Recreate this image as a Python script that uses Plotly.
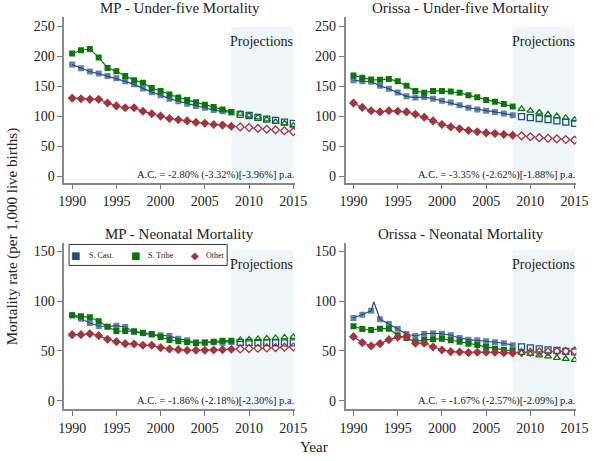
import plotly.graph_objects as go

years_hist = [1990, 1991, 1992, 1993, 1994, 1995, 1996, 1997, 1998, 1999,
              2000, 2001, 2002, 2003, 2004, 2005, 2006, 2007, 2008]
years_proj = [2009, 2010, 2011, 2012, 2013, 2014, 2015]

# MP - Under-five
mp_u5_sc = [186, 180, 174.5, 171, 167, 163, 158, 153, 146, 140, 135, 129, 125, 120.5, 117, 114, 110, 108, 106]
mp_u5_st = [204.5, 210, 212, 198, 180.5, 175, 167, 160, 155.5, 147, 142, 136, 131, 127, 123, 119, 115, 111, 107]
mp_u5_ot = [130, 129, 128, 128, 122, 117, 114, 114, 108, 104, 100, 96, 94, 92, 89.5, 88, 86, 85, 83]
mp_u5_sc_p = [103, 101, 98, 95, 93, 90, 88]
mp_u5_st_p = [104, 101, 98, 94.5, 90.5, 88, 84]
mp_u5_ot_p = [82, 81, 79.5, 78, 77, 75.5, 74]

# Orissa - Under-five
or_u5_sc = [160, 158, 157.5, 150.5, 145.5, 139.5, 133, 131, 132, 129, 125.5, 122.8, 118, 114, 111, 109, 107, 104.5, 101.5]
or_u5_st = [167.8, 164, 161, 160.5, 162, 158, 150.5, 142, 139, 142, 142, 141, 139, 135, 131.5, 127, 124, 120, 116]
or_u5_ot = [121.7, 114.5, 109, 107, 109, 108, 107, 103, 98, 92, 86, 82, 79, 76, 74, 72, 71, 69.5, 68]
or_u5_sc_p = [99, 97.5, 96, 94, 92, 90, 88]
or_u5_st_p = [112, 109, 106, 103, 100, 97, 94]
or_u5_ot_p = [67, 65.5, 64, 63, 62, 61, 60]

# MP - Neonatal
mp_nn_sc = [85.7, 82.3, 78, 75, 74.3, 75.3, 74, 69, 67.7, 66.3, 65.7, 65, 62.3, 60.7, 58.7, 58.7, 58.7, 58.3, 59]
mp_nn_st = [85.7, 84.7, 83.7, 79.7, 74.3, 70, 70, 69.7, 68.3, 67, 64, 61, 59.7, 58.7, 57.7, 58.3, 59.3, 60.3, 60.3]
mp_nn_ot = [66.3, 66.3, 67.3, 65.3, 61.7, 59.3, 57.3, 57, 55.7, 55.7, 53.3, 52, 51.3, 50.7, 50.7, 50.7, 51, 51.3, 51.7]
mp_nn_sc_p = [58.5, 58.5, 58.4, 58.3, 58.2, 58.1, 58]
mp_nn_st_p = [61, 61.5, 62, 62.5, 63, 63.5, 64]
mp_nn_ot_p = [52, 52.3, 52.7, 53, 53.3, 53.7, 54]

# Orissa - Neonatal
or_nn_sc = [83, 86.3, 90.3, 81.7, 77, 72.3, 67, 65, 67, 67.7, 67.3, 65.7, 63, 61.3, 60.7, 59.7, 58.7, 57.7, 55.7]
or_nn_sc_spike_year = 1992.3
or_nn_sc_spike_value = 99.3
or_nn_st = [74.7, 72, 71, 72.3, 72.3, 65.7, 63, 59.3, 61, 61.7, 62.3, 60.7, 59.3, 57.3, 56, 54, 52.3, 51, 50]
or_nn_ot = [64.3, 58.3, 55, 57.3, 61.3, 63.7, 64.3, 57.7, 57.7, 54, 51, 49.3, 49, 48.3, 48.7, 48.7, 48.7, 48.3, 48]
or_nn_sc_p = [54, 53, 52, 51, 50.5, 49.5, 49]
or_nn_st_p = [48, 47, 45.5, 44.5, 43, 42, 41]
or_nn_ot_p = [48.5, 48.7, 49, 49.2, 49.5, 49.7, 50]

titles = ["MP - Under-five Mortality", "Orissa - Under-five Mortality",
          "MP - Neonatal Mortality", "Orissa - Neonatal Mortality"]
ac_texts = ["A.C. = -2.80% (-3.32%)[-3.96%] p.a.", "A.C. = -3.35% (-2.62%)[-1.88%] p.a.",
            "A.C. = -1.86% (-2.18%)[-2.30%] p.a.", "A.C. = -1.67% (-2.57%)[-2.09%] p.a."]
series_names = ["S. Cast.", "S. Tribe", "Other"]

BLUE = "#1f4f82"
GREEN = "#0a760a"
RED = "#a0343f"
FONT = "Liberation Serif, Times New Roman, serif"
TXT = "#222222"

panels = [
    (mp_u5_sc, mp_u5_st, mp_u5_ot, mp_u5_sc_p, mp_u5_st_p, mp_u5_ot_p),
    (or_u5_sc, or_u5_st, or_u5_ot, or_u5_sc_p, or_u5_st_p, or_u5_ot_p),
    (mp_nn_sc, mp_nn_st, mp_nn_ot, mp_nn_sc_p, mp_nn_st_p, mp_nn_ot_p),
    (or_nn_sc, or_nn_st, or_nn_ot, or_nn_sc_p, or_nn_st_p, or_nn_ot_p),
]

W, H = 600, 461
xdom = [[60 / W, 298 / W], [350 / W, 588 / W]]
ydom_top = [1 - 183 / H, 1 - 17 / H]
ydom_bot = [1 - 410 / H, 1 - 244 / H]
ydoms = [ydom_top, ydom_top, ydom_bot, ydom_bot]
xdoms = [xdom[0], xdom[1], xdom[0], xdom[1]]
yranges = [[-11, 265.5], [-11, 265.5], [-8.3, 157.7], [-8.3, 157.7]]
ytickvals = [[0, 50, 100, 150, 200, 250], [0, 50, 100, 150, 200, 250],
             [0, 50, 100, 150], [0, 50, 100, 150]]
shade_top = [249, 249, 151, 151]
shade_bot = [-6.5, -6.5, -6.5, -6.5]

fig = go.Figure()
layout = dict(
    width=W, height=H, margin=dict(l=0, r=0, t=0, b=0),
    paper_bgcolor="white", plot_bgcolor="white",
    font=dict(family=FONT, color=TXT, size=14),
    showlegend=False,
)
shapes = []
annotations = []

for i, (sc, st, ot, scp, stp, otp) in enumerate(panels):
    n = i + 1
    xa = "x" if n == 1 else f"x{n}"
    ya = "y" if n == 1 else f"y{n}"
    xkey = "xaxis" if n == 1 else f"xaxis{n}"
    ykey = "yaxis" if n == 1 else f"yaxis{n}"
    layout[xkey] = dict(domain=xdoms[i], range=[1989.1, 2015.2], anchor=ya,
                        tickvals=[1990, 1995, 2000, 2005, 2010, 2015],
                        ticks="outside", ticklen=5, tickcolor="#777777", tickwidth=1,
                        showline=True, linecolor="#888888", linewidth=1.5,
                        showgrid=False, zeroline=False,
                        tickfont=dict(size=14, family=FONT, color=TXT))
    layout[ykey] = dict(domain=ydoms[i], range=yranges[i], anchor=xa,
                        tickvals=ytickvals[i],
                        ticks="outside", ticklen=5, tickcolor="#777777", tickwidth=1,
                        showline=True, linecolor="#888888", linewidth=1.5,
                        showgrid=False, zeroline=False,
                        tickfont=dict(size=14, family=FONT, color=TXT))
    shapes.append(dict(type="rect", xref=xa, yref=ya, x0=2008, x1=2015,
                       y0=shade_bot[i], y1=shade_top[i],
                       fillcolor="#eef6f9", line=dict(width=0), layer="below"))
    annotations.append(dict(xref=xa, yref=ya, x=2015, y=shade_top[i],
                            text="Projections", showarrow=False,
                            xanchor="right", yanchor="top", yshift=-5, xshift=2,
                            font=dict(size=14, family=FONT, color=TXT)))
    annotations.append(dict(xref=f"{xa} domain", yref=f"{ya} domain", x=1.0, y=0.0,
                            text=ac_texts[i], showarrow=False,
                            xanchor="right", yanchor="bottom", yshift=0, xshift=1,
                            font=dict(size=10.5, family=FONT, color=TXT)))
    annotations.append(dict(xref=f"{xa} domain", yref=f"{ya} domain", x=0.5, y=1.0,
                            text=titles[i], showarrow=False,
                            xanchor="center", yanchor="bottom", yshift=-1,
                            font=dict(size=15, family=FONT, color=TXT)))

    sc_x = list(years_hist)
    sc_y = list(sc)
    sc_sizes = [6] * len(sc)
    if i == 3:
        idx = 3
        sc_x.insert(idx, or_nn_sc_spike_year)
        sc_y.insert(idx, or_nn_sc_spike_value)
        sc_sizes.insert(idx, 0)
    hist = [
        (sc_x, sc_y, BLUE, "square", sc_sizes),
        (years_hist, st, GREEN, "square", 6),
        (years_hist, ot, RED, "diamond", 7),
    ]
    for (xs, ys, col, sym, sz) in hist:
        fig.add_trace(go.Scatter(x=xs, y=ys, xaxis=xa, yaxis=ya, mode="lines+markers",
                                 line=dict(color=col, width=1.2),
                                 marker=dict(symbol=sym, size=sz, color=col, line=dict(width=0)),
                                 showlegend=False, hoverinfo="skip"))
    proj = [
        (scp, BLUE, "square-open", 6),
        (stp, GREEN, "triangle-up-open", 6),
        (otp, RED, "diamond-open", 6),
    ]
    for (ys, col, sym, sz) in proj:
        fig.add_trace(go.Scatter(x=years_proj, y=ys, xaxis=xa, yaxis=ya, mode="markers",
                                 marker=dict(symbol=sym, size=sz, color=col, line=dict(width=1.3, color=col)),
                                 showlegend=False, hoverinfo="skip"))

# manual legend in the MP - Neonatal panel
shapes.append(dict(type="rect", xref="paper", yref="paper",
                   x0=65 / W, x1=228 / W, y0=1 - 266 / H, y1=1 - 245 / H,
                   fillcolor="white", line=dict(color="#333333", width=1), layer="above"))
leg_y = 1 - 256.5 / H
leg_items = [
    (series_names[0], BLUE, "\u25A0", 72, 84),
    (series_names[1], GREEN, "\u25A0", 133, 144),
    (series_names[2], RED, "\u25C6", 195, 204),
]
for name, col, glyph, mx, tx in leg_items:
    annotations.append(dict(xref="paper", yref="paper", x=mx / W, y=leg_y,
                            text=glyph, showarrow=False, xanchor="center", yanchor="middle",
                            font=dict(size=10, family="DejaVu Sans", color=col)))
    annotations.append(dict(xref="paper", yref="paper", x=tx / W, y=leg_y,
                            text=name, showarrow=False, xanchor="left", yanchor="middle",
                            font=dict(size=8, family=FONT, color=TXT)))

annotations.append(dict(xref="paper", yref="paper", x=7 / W, y=1 - 237 / H,
                        text="Mortality rate (per 1,000 live births)", textangle=-90,
                        showarrow=False, xanchor="center", yanchor="middle",
                        font=dict(size=15, family=FONT, color=TXT)))
annotations.append(dict(xref="paper", yref="paper", x=318 / W, y=1 - 448 / H,
                        text="Year", showarrow=False, xanchor="center", yanchor="middle",
                        font=dict(size=15, family=FONT, color=TXT)))

layout["shapes"] = shapes
layout["annotations"] = annotations
fig.update_layout(**layout)
fig.write_html("out.html", config={"displayModeBar": False},
               post_script="document.body.style.margin='0px';document.body.style.overflow='hidden';")
